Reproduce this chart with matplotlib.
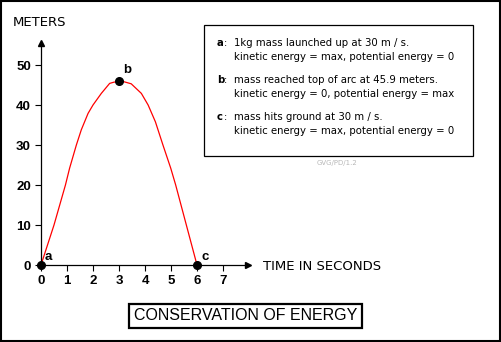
import matplotlib
matplotlib.use("Agg")
import matplotlib.pyplot as plt
from matplotlib.patches import Rectangle

# height of the mass (m)
t_sec = [0, 0.5, 0.94, 1.1, 1.36, 1.55, 1.81, 2.0, 2.32, 2.64, 2.8, 3.0,
         3.2, 3.47, 3.86, 4.12, 4.4, 4.69, 4.99, 5.18, 5.59, 6.0]
h_m = [0, 10, 20, 24.2, 30, 33.8, 37.9, 40, 42.9, 45.4, 45.7, 45.9,
       45.8, 45.3, 42.9, 40, 35.8, 30, 24.2, 20, 10, 0]

pt_t = [0, 3, 6]
pt_h = [0, 45.9, 0]
pt_lbl = ["a", "b", "c"]

xticks = [0, 1, 2, 3, 4, 5, 6, 7]
yticks = [0, 10, 20, 30, 40, 50]

notes = [
    ("a", "1kg mass launched up at 30 m / s.",
     "kinetic energy = max, potential energy = 0"),
    ("b", "mass reached top of arc at 45.9 meters.",
     "kinetic energy = 0, potential energy = max"),
    ("c", "mass hits ground at 30 m / s.",
     "kinetic energy = max, potential energy = 0"),
]

W, H = 501, 342


def fx(x):
    return x / W


def fy(y):
    return 1 - y / H


fig = plt.figure(figsize=(W / 100, H / 100), dpi=100)

# axes: origin at pixel (41, 265), 26 px per second, 4 px per meter
xmax, ymax = 7.95, 55.5
ax = fig.add_axes([fx(41), fy(265), xmax * 26 / W, ymax * 4 / H])
ax.set_xlim(0, xmax)
ax.set_ylim(0, ymax)
ax.patch.set_alpha(0)
for s in ["top", "right"]:
    ax.spines[s].set_visible(False)
for s in ["left", "bottom"]:
    ax.spines[s].set_linewidth(0.9)

ax.set_xticks(xticks)
ax.set_yticks(yticks)
ax.tick_params(direction="out", length=4.3, width=0.8, pad=3,
               labelsize=9.5)
for lab in ax.get_xticklabels() + ax.get_yticklabels():
    lab.set_fontfamily("Liberation Sans")
    lab.set_fontweight("bold")

# arrow heads
ax.plot(0, 1, "^k", ms=5, transform=ax.get_xaxis_transform(), clip_on=False)
ax.plot(1, 0, ">k", ms=5, transform=ax.get_yaxis_transform(), clip_on=False)

ax.plot(t_sec, h_m, color="red", lw=0.9, clip_on=False)
ax.plot(pt_t, pt_h, "o", color="black", ms=5.5, clip_on=False, zorder=5)

offs = [(0.3, 2.0), (0.33, 2.8), (0.3, 2.0)]
for x, y, l, (dx, dy) in zip(pt_t, pt_h, pt_lbl, offs):
    ax.text(x + dx, y + dy, l, fontsize=9.5, fontweight="bold",
            family="Liberation Sans", ha="center", va="center")

# axis titles
fig.text(fx(13), fy(22), "METERS", fontsize=9.5, ha="left", va="center")
fig.text(fx(263), fy(266), "TIME IN SECONDS", fontsize=9.5, ha="left",
         va="center")

# notes box
fig.add_artist(Rectangle((fx(204), fy(156)), (473 - 204) / W, (156 - 25) / H,
                         transform=fig.transFigure, fill=False,
                         ec="black", lw=0.9))
ys = [43, 80, 117]
fs = 7.3
for (k, l1, l2), y in zip(notes, ys):
    fig.text(fx(217), fy(y), k, fontsize=fs, fontweight="bold", va="center")
    fig.text(fx(224), fy(y), ":", fontsize=fs, va="center")
    fig.text(fx(234), fy(y), l1, fontsize=fs, va="center")
    fig.text(fx(234), fy(y + 14), l2, fontsize=fs, va="center")

fig.text(fx(317), fy(163), "GVG/PD/1.2", fontsize=5, color="#b8b8b8",
         va="center")

# title box
fig.text(fx(245.5), fy(316), "CONSERVATION OF ENERGY", fontsize=11.5,
         family="Liberation Sans", ha="center", va="center",
         bbox=dict(boxstyle="square,pad=0.28", fc="white", ec="black", lw=1.6))

# outer frame
fig.add_artist(Rectangle((0.001, 0.002), 0.997, 0.996, transform=fig.transFigure,
                         fill=False, ec="black", lw=1.5))

fig.savefig("out.png", dpi=100)
